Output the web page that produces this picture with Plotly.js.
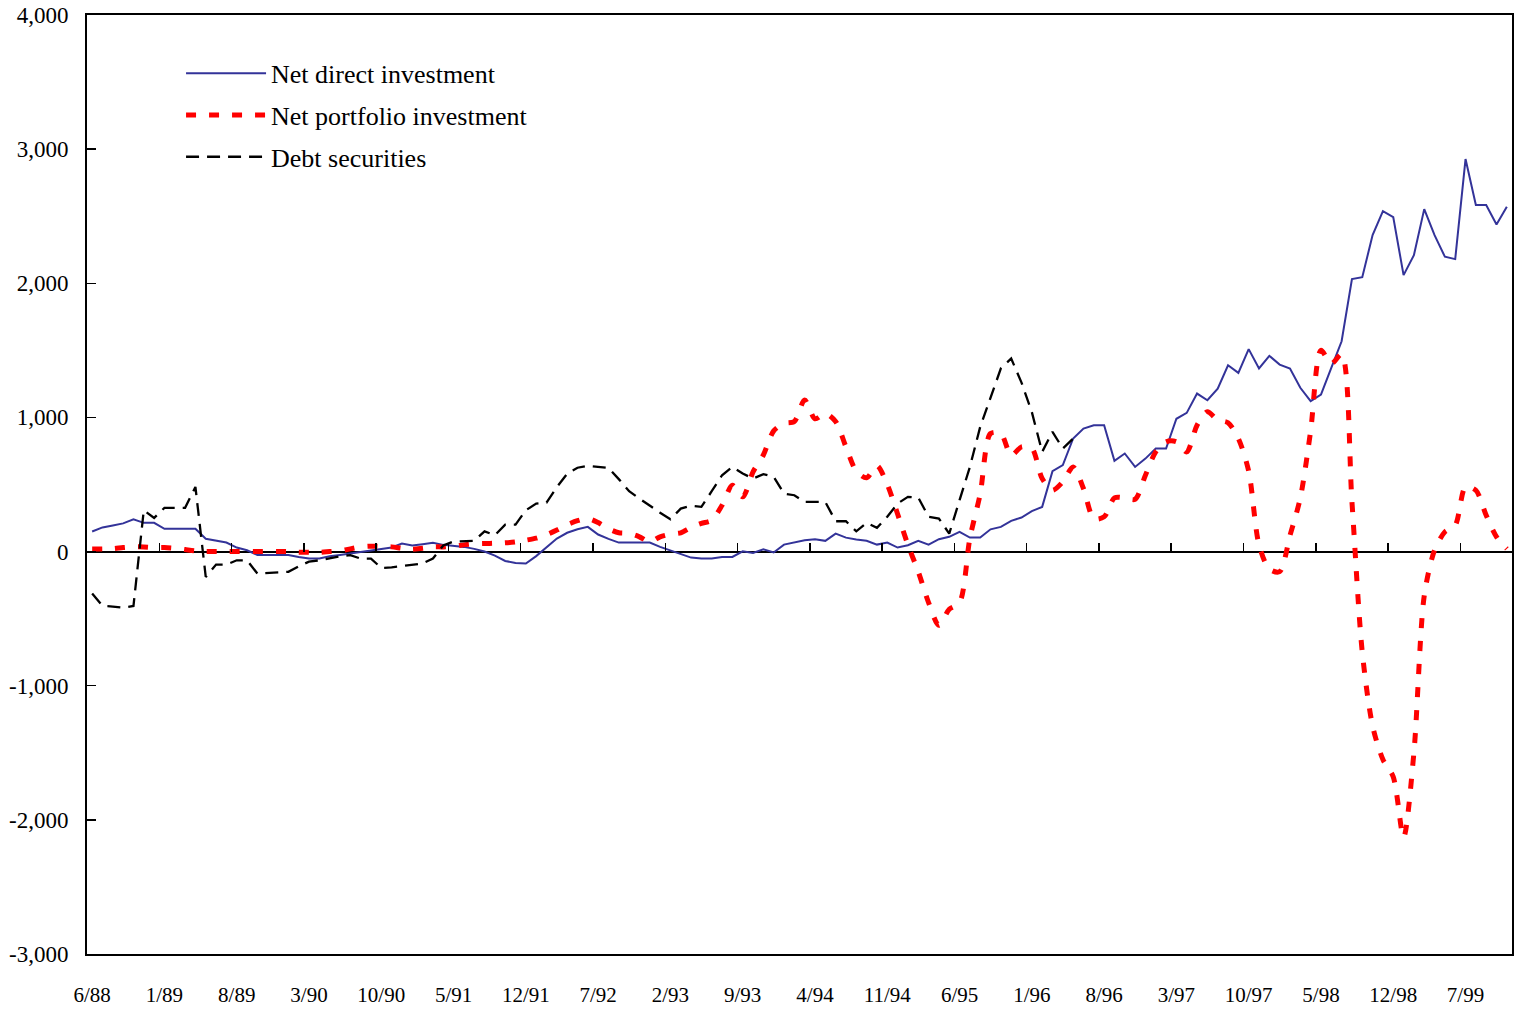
<!DOCTYPE html>
<html>
<head>
<meta charset="utf-8">
<script src="https://cdn.plot.ly/plotly-3.0.1.min.js"></script>
<style>
  html, body { margin: 0; padding: 0; background: #ffffff; }
  #chart { width: 1523px; height: 1012px; }
</style>
</head>
<body>
<div id="chart"></div>
<script>
// ---- categories: monthly observations, June 1988 .. November 1999 ----
const startMonth = 6, startYear = 88, monthCount = 138;
const months = [];
for (let i = 0; i < monthCount; i++) {
  const m = (startMonth - 1 + i) % 12 + 1;
  const y = startYear + Math.floor((startMonth - 1 + i) / 12);
  months.push(m + '/' + (y % 100));
}

// ---- tick labels shown on the category axis ----
const tickLabels = ['6/88','1/89','8/89','3/90','10/90','5/91','12/91','7/92','2/93','9/93',
                    '4/94','11/94','6/95','1/96','8/96','3/97','10/97','5/98','12/98','7/99'];

// ---- series values ----
const netDirectInvestment = [
  150,180,195,210,240,214,214,170,170,170,
  170,95,82,67,30,10,-25,-25,-25,-25,
  -40,-52,-52,-35,-25,-15,0,10,20,30,
  60,45,55,65,50,45,35,20,0,-30,
  -70,-85,-89,-34,30,97,140,166,184,127,
  95,67,67,67,67,35,10,-20,-45,-52,
  -52,-40,-40,2,-10,17,-7,52,70,85,
  92,80,134,104,90,80,52,67,30,47,
  80,52,92,110,147,104,104,166,184,229,
  254,301,333,599,644,843,917,942,942,676,
  731,631,693,768,768,990,1034,1178,1128,1215,
  1389,1332,1509,1365,1459,1394,1365,1221,1121,1171,
  1370,1568,2031,2046,2359,2538,2493,2061,2210,2553,
  2359,2198,2180,2926,2583,2583,2438,2570
];

const netPortfolioInvestment = [
  20,20,22,30,35,35,30,30,25,15,
  5,0,0,0,0,0,0,0,0,0,
  -5,-5,-5,0,5,20,35,40,38,35,
  25,17,25,35,35,40,50,58,60,62,
  65,72,85,100,125,160,200,230,246,216,
  170,140,135,110,72,110,130,140,180,210,
  234,345,494,408,594,720,900,955,970,1130,
  990,1030,970,780,600,550,640,500,280,50,
  -150,-380,-550,-430,-380,100,430,880,880,718,
  780,770,544,457,520,631,470,246,259,400,
  400,390,569,743,818,818,743,942,1042,980,
  960,843,600,50,-130,-150,120,400,900,1500,
  1400,1470,370,-750,-1300,-1550,-1680,-2130,-1500,-330,
  10,147,196,482,457,271,110,20
];

const debtSecurities = [
  -313,-405,-410,-418,-405,308,251,326,326,326,
  482,-189,-97,-97,-65,-65,-164,-160,-155,-151,
  -110,-75,-65,-50,-35,-27,-52,-52,-122,-118,
  -110,-100,-89,-52,45,75,75,80,151,122,
  201,201,308,358,365,480,580,625,639,630,
  624,540,450,395,341,290,241,320,341,333,
  450,569,631,582,544,577,557,432,420,370,
  370,370,226,226,151,214,177,260,358,408,
  403,260,246,134,383,631,930,1141,1365,1439,
  1260,1040,743,893,768,843
];

// ---- y axis tick labels ----
const yTickValues = [-3000,-2000,-1000,0,1000,2000,3000,4000];
const yTickLabels = ['-3,000','-2,000','-1,000','0','1,000','2,000','3,000','4,000'];

const FONT = 'Liberation Serif, Times New Roman, serif';
const nCat = months.length;

const traces = [
  {
    name: 'Net direct investment',
    x: months.slice(0, netDirectInvestment.length),
    y: netDirectInvestment,
    type: 'scatter', mode: 'lines',
    line: { color: '#333399', width: 2 },
    legendgroup: 'a', hoverinfo: 'x+y'
  },
  {
    name: 'Net portfolio investment',
    x: months.slice(0, netPortfolioInvestment.length),
    y: netPortfolioInvestment,
    type: 'scatter', mode: 'lines',
    line: { color: '#ff0000', width: 5, dash: '10px,13px', shape: 'spline', smoothing: 0.8 },
    legendgroup: 'b', hoverinfo: 'x+y'
  },
  {
    name: 'Debt securities',
    x: months.slice(0, debtSecurities.length),
    y: debtSecurities,
    type: 'scatter', mode: 'lines',
    line: { color: '#000000', width: 2.3, dash: '13px,8px' },
    legendgroup: 'c', hoverinfo: 'x+y'
  },
  // empty helper trace so the tick-mark axis on the zero line is drawn
  { x: [null], y: [null], xaxis: 'x2', yaxis: 'y', type: 'scatter', mode: 'lines',
    showlegend: false, hoverinfo: 'skip' }
];

const layout = {
  width: 1523, height: 1012,
  margin: { l: 87, r: 11, t: 15, b: 58, pad: 0 },
  paper_bgcolor: '#ffffff', plot_bgcolor: '#ffffff',
  font: { family: FONT, color: '#000000', size: 20 },
  showlegend: true,
  legend: {
    x: 0.066, y: 0.963, xanchor: 'left', yanchor: 'top',
    bgcolor: 'rgba(0,0,0,0)', borderwidth: 0,
    font: { family: FONT, size: 26, color: '#000000' },
    traceorder: 'grouped', tracegroupgap: 5,
    itemwidth: 80
  },
  xaxis: {
    type: 'category',
    categoryorder: 'array', categoryarray: months,
    range: [-0.5, nCat - 0.5],
    tickmode: 'array', tickvals: tickLabels, ticktext: tickLabels,
    ticks: '', showgrid: false, zeroline: false,
    showline: true, linecolor: '#000000', linewidth: 2, mirror: true,
    tickfont: { family: FONT, size: 21, color: '#000000' },
    ticklabelstandoff: 21
  },
  xaxis2: {
    overlaying: 'x', anchor: 'free', position: 3 / 7, side: 'bottom',
    type: 'linear', range: [-0.5, nCat - 0.5],
    tickmode: 'linear', tick0: -0.5, dtick: 7,
    ticks: 'inside', ticklen: 9, tickwidth: 1.5, tickcolor: '#000000',
    showticklabels: false, showgrid: false, zeroline: false, showline: false
  },
  yaxis: {
    range: [-3000, 4000],
    tickmode: 'array', tickvals: yTickValues, ticktext: yTickLabels,
    ticks: 'inside', ticklen: 9, tickwidth: 1.5, tickcolor: '#000000',
    showgrid: false,
    zeroline: true, zerolinecolor: '#000000', zerolinewidth: 2,
    showline: true, linecolor: '#000000', linewidth: 2, mirror: true,
    tickfont: { family: FONT, size: 23, color: '#000000' },
    ticklabelstandoff: 12
  }
};

Plotly.newPlot('chart', traces, layout, { displayModeBar: false, staticPlot: true });
</script>
</body>
</html>
